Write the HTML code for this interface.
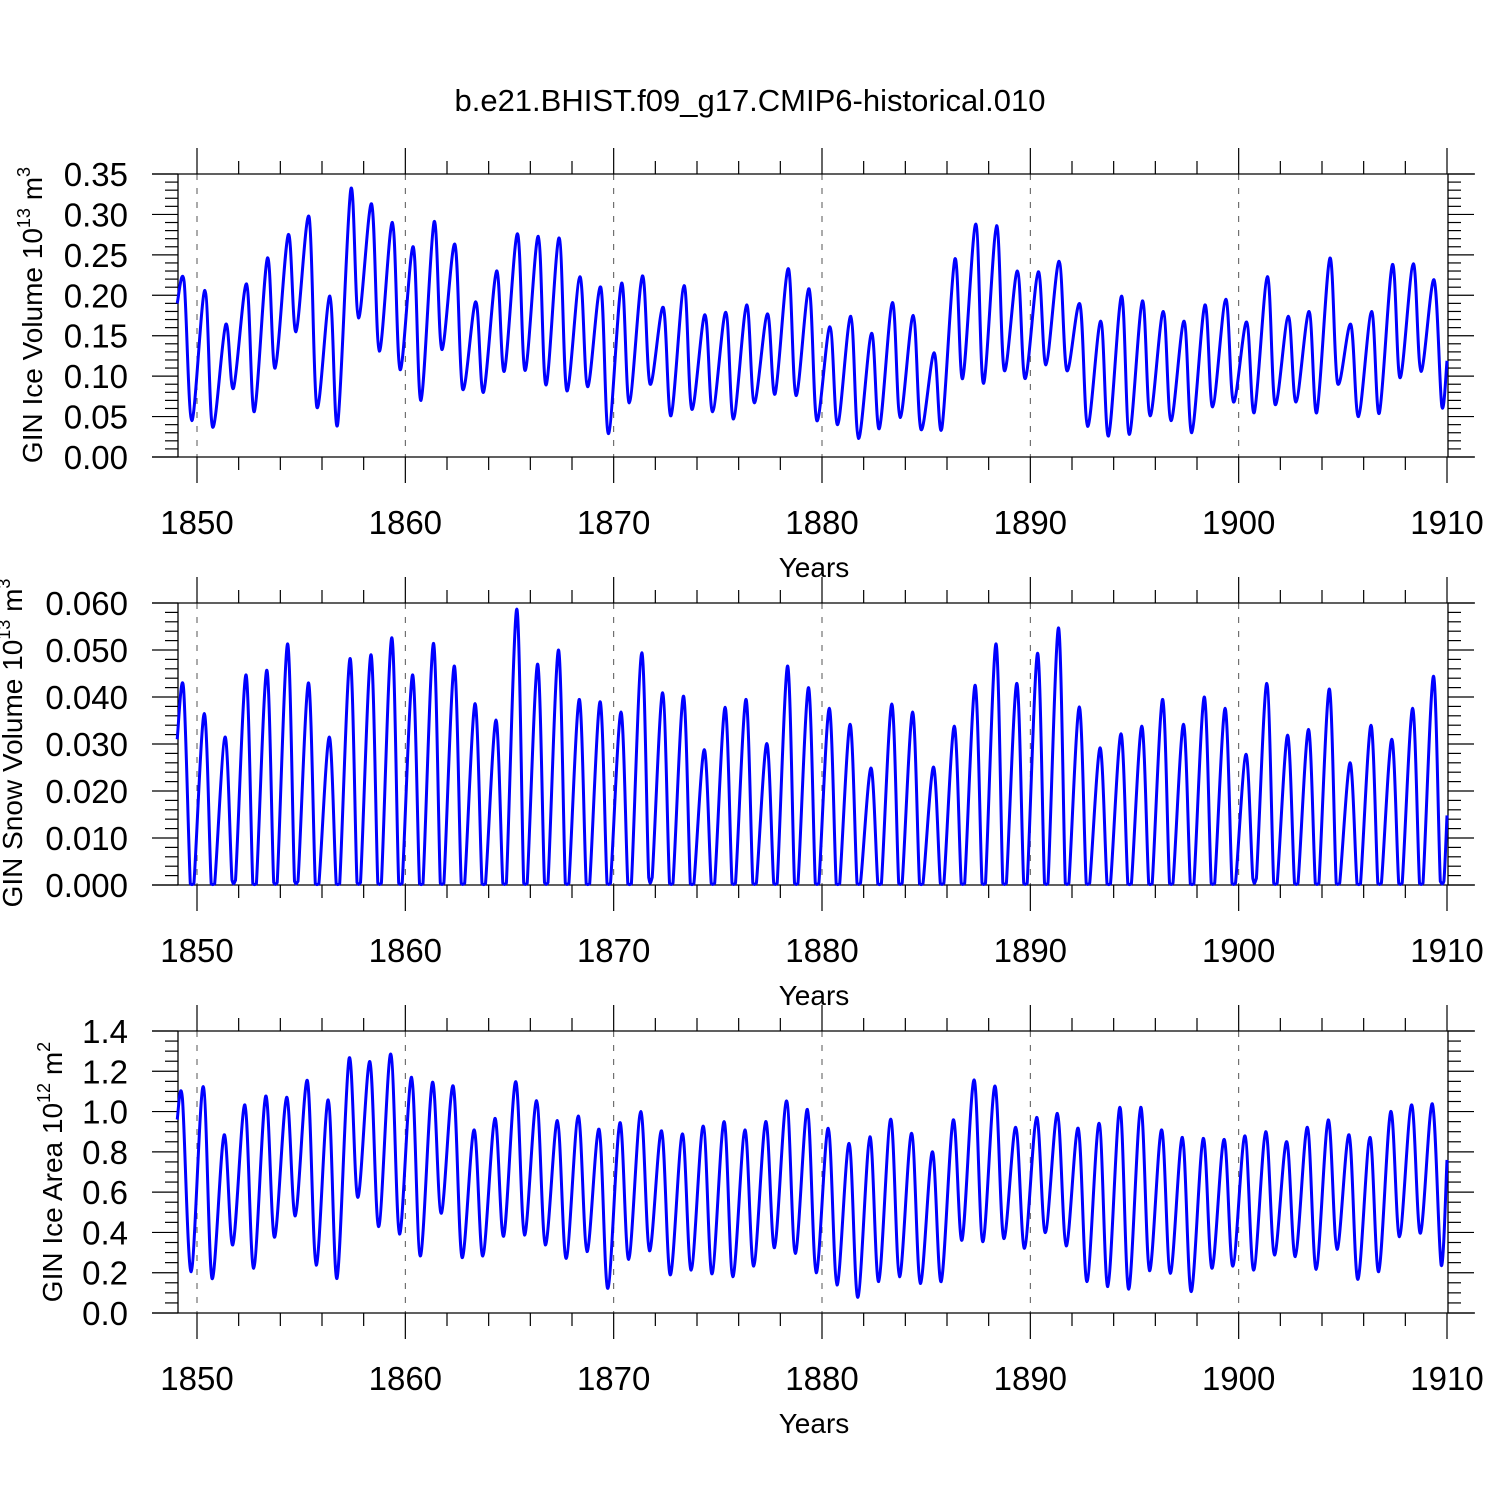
<!DOCTYPE html>
<html><head><meta charset="utf-8"><title>GIN timeseries</title>
<style>
html,body{margin:0;padding:0;background:#fff;}
svg{display:block;font-family:"Liberation Sans",Arial,sans-serif;}
</style></head>
<body>
<svg id="chart" width="1500" height="1500" viewBox="0 0 1500 1500" xmlns="http://www.w3.org/2000/svg">
<rect x="0" y="0" width="1500" height="1500" fill="#fff"/>
<text x="750" y="111" font-size="31" text-anchor="middle">b.e21.BHIST.f09_g17.CMIP6-historical.010</text>
</svg>
<script>
// ---------- data (one value per year 1849..1909) ----------
const startYear = 1849;
const xTickLabels = ["1850","1860","1870","1880","1890","1900","1910"];

const iceVolPeaks = [0.217,0.206,0.164,0.214,0.246,0.275,0.297,0.199,0.331,0.313,
0.29,0.26,0.291,0.263,0.192,0.23,0.276,0.273,0.271,0.223,
0.21,0.215,0.224,0.185,0.212,0.176,0.179,0.188,0.177,0.233,
0.208,0.161,0.174,0.153,0.191,0.175,0.129,0.245,0.288,0.286,
0.23,0.229,0.242,0.189,0.168,0.199,0.193,0.18,0.168,0.188,
0.195,0.167,0.223,0.174,0.18,0.246,0.164,0.18,0.238,0.239,0.219];
const iceVolTroughs = [0.045,0.037,0.085,0.056,0.11,0.155,0.062,0.04,0.172,0.131,
0.108,0.07,0.133,0.084,0.08,0.106,0.107,0.089,0.082,0.087,
0.029,0.067,0.09,0.051,0.059,0.056,0.047,0.067,0.078,0.076,
0.045,0.04,0.023,0.035,0.049,0.034,0.035,0.097,0.091,0.107,
0.097,0.114,0.107,0.038,0.026,0.028,0.051,0.045,0.03,0.062,
0.068,0.055,0.065,0.068,0.055,0.091,0.05,0.054,0.098,0.106,0.063];
const iceVolEnds = [0.19,0.119];
const iceVolTicks = ["0.00","0.05","0.10","0.15","0.20","0.25","0.30","0.35"];

const snowPeaks = [0.042,0.0365,0.0315,0.0447,0.0457,0.0513,0.043,0.0315,0.0482,0.049,
0.0526,0.0447,0.0514,0.0466,0.0386,0.0351,0.0587,0.047,0.05,0.0395,
0.039,0.0368,0.0494,0.0409,0.0402,0.0288,0.0378,0.0395,0.0301,0.0466,
0.042,0.0376,0.0342,0.0249,0.0385,0.0368,0.0251,0.0338,0.0425,0.0513,
0.0429,0.0493,0.0547,0.0379,0.0292,0.0322,0.0338,0.0395,0.0342,0.04,
0.0376,0.0278,0.0429,0.0319,0.0331,0.0417,0.026,0.034,0.031,0.0376,0.0444];
const snowTroughs = [0.0003,0.0003,0.001,0.0003,0.0005,0.0008,0.0003,0.0003,0.0005,0.0004,
0.0004,0.0003,0.0004,0.0004,0.0003,0.0004,0.0004,0.0005,0.0004,0.0003,
0.0004,0.0003,0.0016,0.0004,0.0003,0.0004,0.0004,0.0004,0.0004,0.0004,
0.0004,0.0003,0.0004,0.0003,0.0004,0.0003,0.0004,0.0004,0.0004,0.0004,
0.0004,0.0004,0.0004,0.0004,0.0003,0.0003,0.0003,0.0004,0.0003,0.0004,
0.0004,0.0014,0.0004,0.0004,0.0004,0.0004,0.0003,0.0004,0.0004,0.0004,0.0008];
const snowEnds = [0.031,0.0148];
const snowTicks = ["0.000","0.010","0.020","0.030","0.040","0.050","0.060"];

const areaPeaks = [1.066,1.124,0.884,1.033,1.077,1.071,1.154,1.058,1.264,1.248,
1.286,1.17,1.145,1.127,0.909,0.966,1.149,1.054,0.955,0.978,
0.912,0.945,1.0,0.904,0.889,0.928,0.95,0.909,0.95,1.053,
1.011,0.917,0.842,0.875,0.962,0.892,0.801,0.958,1.157,1.127,
0.922,0.971,0.991,0.917,0.942,1.021,1.021,0.909,0.872,0.867,
0.862,0.879,0.9,0.851,0.922,0.958,0.884,0.872,1.0,1.033,1.038];
const areaTroughs = [0.205,0.172,0.338,0.222,0.376,0.482,0.238,0.172,0.574,0.429,
0.392,0.283,0.495,0.276,0.283,0.382,0.387,0.338,0.271,0.305,
0.122,0.266,0.309,0.189,0.213,0.194,0.18,0.233,0.324,0.296,
0.2,0.139,0.078,0.156,0.18,0.147,0.156,0.362,0.354,0.371,
0.321,0.399,0.333,0.156,0.131,0.118,0.21,0.197,0.106,0.222,
0.233,0.213,0.288,0.28,0.217,0.316,0.167,0.205,0.379,0.396,0.238];
const areaEnds = [0.96,0.76];
const areaTicks = ["0.0","0.2","0.4","0.6","0.8","1.0","1.2","1.4"];

// ---------- drawing ----------
const NS = "http://www.w3.org/2000/svg";
const svg = document.getElementById('chart');
function mk(tag, attrs, parent){
  const e = document.createElementNS(NS, tag);
  for (const k in attrs) e.setAttribute(k, attrs[k]);
  (parent||svg).appendChild(e);
  return e;
}
const X0 = 197, PXYR = (1447-197)/60;
function xs(t){ return X0 + (t-1850)*PXYR; }

function panel(cfg){
  const g = mk('g', {});
  
  
  const top = cfg.top, bot = cfg.bot;
  const ys = v => bot - (v - cfg.min)/(cfg.max - cfg.min)*(bot-top);
  for (let yr = 1850; yr <= 1900; yr += 10){
    const l = mk('line', {x1:xs(yr), x2:xs(yr), y1:top, y2:bot, stroke:'#555', 'stroke-width':1, 'stroke-dasharray':'6,8'}, g);
    
    
  }
  mk('line', {x1:152, x2:1475, y1:top, y2:top, stroke:'#000', 'stroke-width':1.3}, g);
  mk('line', {x1:152, x2:1475, y1:bot, y2:bot, stroke:'#000', 'stroke-width':1.3}, g);
  mk('line', {x1:178, x2:178, y1:top, y2:bot, stroke:'#000', 'stroke-width':1.3}, g);
  mk('line', {x1:1448, x2:1448, y1:top, y2:bot, stroke:'#000', 'stroke-width':1.3}, g);
  for (let yr = 1850; yr <= 1910; yr += 2){
    const major = (yr % 10 === 0);
    const len = major ? 26 : 13;
    const x = xs(yr);
    mk('line', {x1:x, x2:x, y1:top-len, y2:top, stroke:'#000', 'stroke-width':1.2}, g);
    mk('line', {x1:x, x2:x, y1:bot, y2:bot+len, stroke:'#000', 'stroke-width':1.2}, g);
  }
  xTickLabels.forEach((lab, i) => {
    const t = mk('text', {x:xs(1850+i*10), y:bot+77, 'font-size':33, 'text-anchor':'middle'}, g);
    t.textContent = lab;
    
    
  });
  const xt = mk('text', {x:814, y:bot+120, 'font-size':28, 'text-anchor':'middle'}, g);
  xt.textContent = 'Years';
  
  
  const nMinor = Math.round((cfg.max-cfg.min)/cfg.minor);
  for (let i = 0; i <= nMinor; i++){
    const v = cfg.min + i*cfg.minor;
    const y = ys(v);
    const major = (i % cfg.per === 0);
    const len = major ? 26 : 13;
    mk('line', {x1:178-len, x2:178, y1:y, y2:y, stroke:'#000', 'stroke-width':1.2}, g);
    mk('line', {x1:1448, x2:1448+len, y1:y, y2:y, stroke:'#000', 'stroke-width':1.2}, g);
  }
  cfg.ticks.forEach((lab, i) => {
    const t = mk('text', {x:128, y:ys(cfg.min + i*cfg.major)+12, 'font-size':33, 'text-anchor':'end'}, g);
    t.textContent = lab;
    
    
  });
  const yt = mk('text', {transform:'translate('+cfg.titleX+','+cfg.titleY+') rotate(-90)', 'font-size':28, 'text-anchor':'middle'}, g);
  
  
  const a = document.createElementNS(NS,'tspan'); a.textContent = cfg.title + ' 10'; yt.appendChild(a);
  const b = document.createElementNS(NS,'tspan'); b.setAttribute('dy','-12'); b.setAttribute('font-size','18'); b.textContent = cfg.exp; yt.appendChild(b);
  const c = document.createElementNS(NS,'tspan'); c.setAttribute('dy','12'); c.textContent = ' m'; yt.appendChild(c);
  const d = document.createElementNS(NS,'tspan'); d.setAttribute('dy','-12'); d.setAttribute('font-size','18'); d.textContent = cfg.unitExp; yt.appendChild(d);
  const pts = [[1849.05, cfg.ends[0]]];
  for (let i = 0; i < cfg.peaks.length; i++){
    const yr = startYear + i;
    pts.push([yr + cfg.pT, cfg.peaks[i]]);
    pts.push([yr + cfg.tT, cfg.troughs[i]]);
    if (cfg.flat) pts.push([yr + cfg.tT + cfg.flat, cfg.troughs[i]]);
  }
  pts.push([1910.0, cfg.ends[1]]);
  const P = pts.map(p => [xs(p[0]), Math.min(bot, ys(p[1]))]);
  let dstr = 'M' + P[0][0].toFixed(1) + ',' + P[0][1].toFixed(1);
  const k = 0.16;
  for (let i = 0; i < P.length-1; i++){
    const p0 = P[Math.max(0,i-1)], p1 = P[i], p2 = P[i+1], p3 = P[Math.min(P.length-1,i+2)];
    const c1x = p1[0] + (p2[0]-p0[0])*k, c1y = Math.min(bot, p1[1] + (p2[1]-p0[1])*k);
    const c2x = p2[0] - (p3[0]-p1[0])*k, c2y = Math.min(bot, p2[1] - (p3[1]-p1[1])*k);
    dstr += ' C' + c1x.toFixed(1)+','+c1y.toFixed(1)+' '+c2x.toFixed(1)+','+c2y.toFixed(1)+' '+p2[0].toFixed(1)+','+p2[1].toFixed(1);
  }
  const line = mk('path', {d:dstr, fill:'none', stroke:'#0000ff', 'stroke-width':3, 'stroke-linejoin':'round'}, g);
  
  
}

panel({name:'ice-volume-panel', top:174, bot:457, min:0, max:0.35, major:0.05, minor:0.01, per:5,
  ticks:iceVolTicks, peaks:iceVolPeaks, troughs:iceVolTroughs, ends:iceVolEnds, pT:0.38, tT:0.75,
  title:'GIN Ice Volume', exp:'13', unitExp:'3', titleX:42, titleY:315});
panel({name:'snow-volume-panel', top:603, bot:885, min:0, max:0.06, major:0.01, minor:0.002, per:5,
  ticks:snowTicks, peaks:snowPeaks, troughs:snowTroughs, ends:snowEnds, pT:0.35, tT:0.68, flat:0.17,
  title:'GIN Snow Volume', exp:'13', unitExp:'3', titleX:22, titleY:743});
panel({name:'ice-area-panel', top:1031, bot:1313, min:0, max:1.4, major:0.2, minor:0.05, per:4,
  ticks:areaTicks, peaks:areaPeaks, troughs:areaTroughs, ends:areaEnds, pT:0.3, tT:0.72,
  title:'GIN Ice Area', exp:'12', unitExp:'2', titleX:62, titleY:1172});
</script>
</body></html>
